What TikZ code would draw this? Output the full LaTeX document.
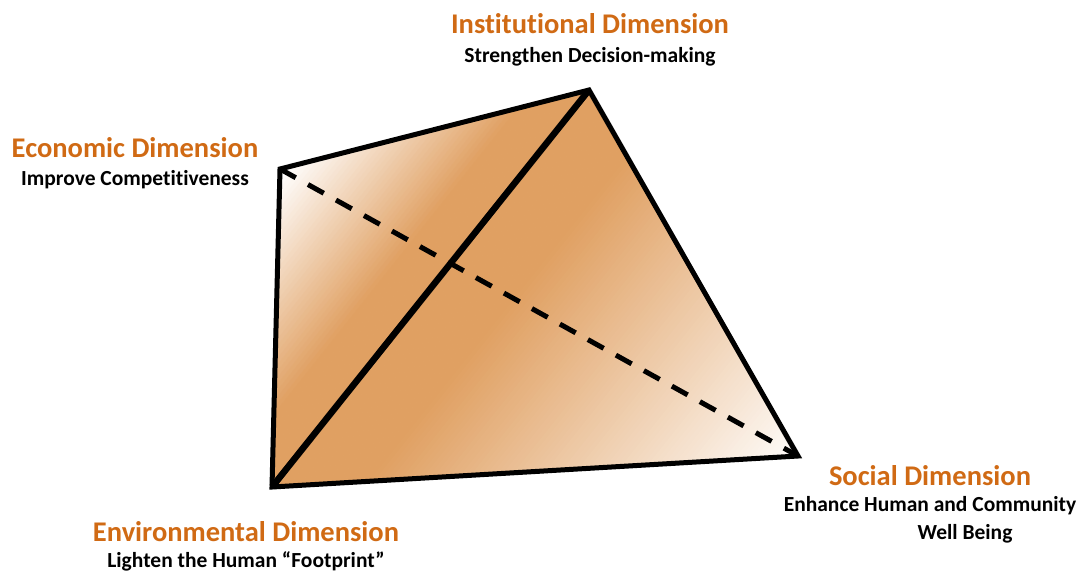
\documentclass[tikz,border=0pt]{standalone}
\usepackage{fontspec}
\setmainfont{Carlito}[RawFeature={-liga}]
\definecolor{fillor}{RGB}{224,160,98}
\definecolor{heador}{RGB}{208,106,20}
\tikzset{
  head/.style={text=heador, font=\fontsize{28.5}{33}\selectfont\bfseries, inner sep=0pt},
  sub/.style={text=black, font=\fontsize{21.5}{25}\selectfont\bfseries, inner sep=0pt},
  edge/.style={line width=5pt, line join=miter, miter limit=10},
  diag/.style={line width=6.5pt, line cap=butt},
  hidden/.style={line width=5pt, dash pattern=on 18pt off 14pt},
}
\begin{document}
\begin{tikzpicture}[x=1pt,y=-1pt]
\useasboundingbox (0,0) rectangle (1086,574);
\coordinate (econ) at (280,169);
\coordinate (inst) at (589,90);
\coordinate (soc) at (798,456);
\coordinate (env) at (272,487);
% gradient fill
\begin{scope}
\clip (econ) -- (inst) -- (soc) -- (env) -- cycle;
\begin{scope}[shift={(env)}, rotate=-38.55]
\foreach \d in {-240,-236,...,440}{
  \pgfmathsetmacro{\p}{\d<-190 ? 0 : (\d<-45 ? (\d+190)/145*100 : (\d<70 ? 100 : (\d<400 ? (400-\d)/330*100 : 0)))}
  \fill[fillor!\p!white] (\d,-900) rectangle (\d+4.6,900);
}
\end{scope}
\end{scope}
\draw[hidden] (econ) -- (soc);
\draw[edge] (econ) -- (inst) -- (soc) -- (env) -- cycle;
\draw[diag] (env) -- (inst);
% labels
\node[head] (instH) at (590,24) {Institutional Dimension};
\node[sub] (instS) at (590,57) {Strengthen Decision-making};
\node[head] (econH) at (135,148) {Economic Dimension};
\node[sub] (econS) at (135,180) {Improve Competitiveness};
\node[head] (socH) at (930,476) {Social Dimension};
\node[sub] (socS) at (930,506) {Enhance Human and Community};
\node[sub] (socS2) at (965,534) {Well Being};
\node[head] (envH) at (246,532) {Environmental Dimension};
\node[sub] (envS) at (246,561) {Lighten the Human “Footprint”};
\end{tikzpicture}
\end{document}
